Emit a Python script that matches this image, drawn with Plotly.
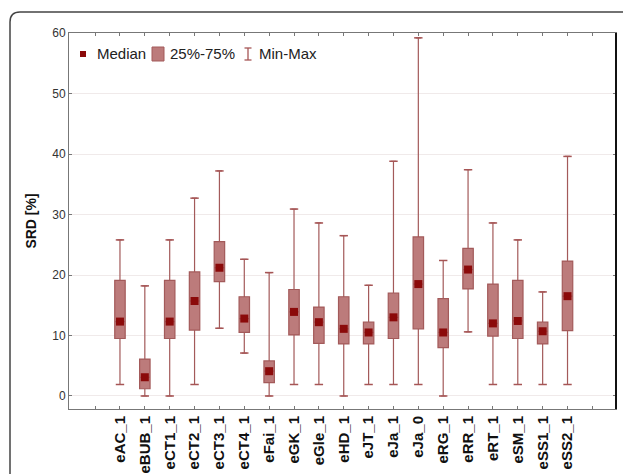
import plotly.graph_objects as go

categories = ["eAC_1", "eBUB_1", "eCT1_1", "eCT2_1", "eCT3_1", "eCT4_1", "eFai_1",
              "eGK_1", "eGle_1", "eHD_1", "eJT_1", "eJa_1", "eJa_0", "eRG_1",
              "eRR_1", "eRT_1", "eSM_1", "eSS1_1", "eSS2_1"]
mins = [1.9, 0.0, 0.0, 1.9, 11.2, 7.1, 0.0, 1.9, 1.9, 0.0, 1.9, 1.9, 1.9, 0.0, 10.6, 1.9, 1.9, 1.9, 1.9]
q1 = [9.5, 1.2, 9.5, 10.9, 18.9, 10.5, 2.2, 10.1, 8.7, 8.6, 8.6, 9.5, 11.1, 8.0, 17.7, 9.9, 9.5, 8.6, 10.8]
medians = [12.3, 3.1, 12.3, 15.7, 21.2, 12.8, 4.1, 13.9, 12.2, 11.1, 10.5, 13.0, 18.5, 10.5, 20.9, 12.0, 12.4, 10.7, 16.5]
q3 = [19.1, 6.1, 19.1, 20.5, 25.5, 16.4, 5.8, 17.6, 14.7, 16.4, 12.2, 17.0, 26.3, 16.1, 24.4, 18.5, 19.1, 12.2, 22.3]
maxs = [25.8, 18.2, 25.8, 32.7, 37.2, 22.6, 20.4, 30.9, 28.6, 26.5, 18.3, 38.8, 59.2, 22.4, 37.4, 28.6, 25.8, 17.2, 39.6]
y_ticks = [0, 10, 20, 30, 40, 50, 60]

positions = list(range(1, len(categories) + 1))
tick_positions = list(range(0, len(categories) + 2))
tick_text = [""] + [f"<b>{c}</b>" for c in categories] + [""]

BOX_FILL = "#bc7b7b"
BOX_LINE = "#a35a5a"
WHISK = "#a65555"
MED = "#8b0a0a"
FONT = "Liberation Sans, Arial, sans-serif"

W, H = 623, 474
L, R, T, B = 69, 7, 33, 65
PW, PH = W - L - R, H - T - B


def px(x):
    return (x - L) / PW


def py(y):
    return 1 - (y - T) / PH


fig = go.Figure()

fig.add_trace(go.Box(
    x=positions, q1=q1, median=medians, q3=q3,
    lowerfence=mins, upperfence=maxs,
    width=0.42, fillcolor=BOX_FILL,
    line=dict(color=BOX_LINE, width=1.2),
    boxpoints=False, showlegend=False, hoverinfo="skip",
))

fig.add_trace(go.Scatter(
    x=positions + positions, y=maxs + mins, mode="markers",
    marker=dict(symbol="line-ew", size=6, line=dict(color=WHISK, width=1.5)),
    showlegend=False, hoverinfo="skip",
))

fig.add_trace(go.Scatter(
    x=positions, y=medians, mode="markers",
    marker=dict(symbol="square", size=8, color=MED, line=dict(width=0)),
    showlegend=False, hoverinfo="skip",
))

shapes = []
# rounded outer frame
rx, ry = 10 / PW, 10 / PH
x0, y0 = px(10), py(12)
shapes.append(dict(
    type="path", xref="paper", yref="paper",
    path=f"M {x0},{py(500)} L {x0},{y0 - ry} Q {x0},{y0} {x0 + rx},{y0} L {px(640)},{y0}",
    line=dict(color="#444444", width=1.5),
))
# right axis dark line
shapes.append(dict(type="line", xref="paper", yref="paper", x0=1, x1=1, y0=0, y1=1,
                   line=dict(color="#111111", width=2)))
# legend symbols
shapes.append(dict(type="rect", xref="paper", yref="paper",
                   x0=px(80), x1=px(86), y0=py(57), y1=py(51),
                   fillcolor=MED, line=dict(width=0)))
shapes.append(dict(type="rect", xref="paper", yref="paper",
                   x0=px(152), x1=px(164), y0=py(61), y1=py(47),
                   fillcolor=BOX_FILL, line=dict(color=BOX_LINE, width=1)))
shapes.append(dict(type="line", xref="paper", yref="paper",
                   x0=px(248), x1=px(248), y0=py(60), y1=py(48),
                   line=dict(color=WHISK, width=1.3)))
shapes.append(dict(type="line", xref="paper", yref="paper",
                   x0=px(244.5), x1=px(251.5), y0=py(48), y1=py(48),
                   line=dict(color=WHISK, width=1.3)))
shapes.append(dict(type="line", xref="paper", yref="paper",
                   x0=px(244.5), x1=px(251.5), y0=py(60), y1=py(60),
                   line=dict(color=WHISK, width=1.3)))

annotations = []
for txt, xpix in [("Median", 95), ("25%-75%", 168), ("Min-Max", 257)]:
    annotations.append(dict(text=txt, xref="paper", yref="paper", x=px(xpix), y=py(54),
                            xanchor="left", yanchor="middle", showarrow=False,
                            font=dict(family=FONT, size=15, color="#222222")))

fig.update_layout(
    width=W, height=H,
    margin=dict(l=L, r=R, t=T, b=B, pad=0, autoexpand=False),
    paper_bgcolor="white", plot_bgcolor="white",
    shapes=shapes, annotations=annotations,
    font=dict(family=FONT),
    xaxis=dict(
        range=[-1.05, 20.95], tickmode="array", tickvals=tick_positions, ticktext=tick_text,
        tickangle=-90, ticks="inside", ticklen=3, tickcolor="#777777",
        showline=True, linecolor="#777777", linewidth=1, mirror="ticks",
        showgrid=False, zeroline=False, automargin=False,
        tickfont=dict(family=FONT, size=15, color="#111111"),
    ),
    yaxis=dict(
        range=[-2.15, 60], tickmode="array", tickvals=y_ticks,
        ticks="inside", ticklen=3, tickcolor="#777777",
        showline=True, linecolor="#777777", linewidth=1, mirror="ticks",
        showgrid=True, gridcolor="#f0eaea", gridwidth=1, zeroline=False, automargin=False,
        tickfont=dict(family=FONT, size=12, color="#333333"),
        title=dict(text="<b>SRD [%]</b>", font=dict(family=FONT, size=14, color="#111111"),
                   standoff=12),
    ),
)

fig.write_html("out.html")
